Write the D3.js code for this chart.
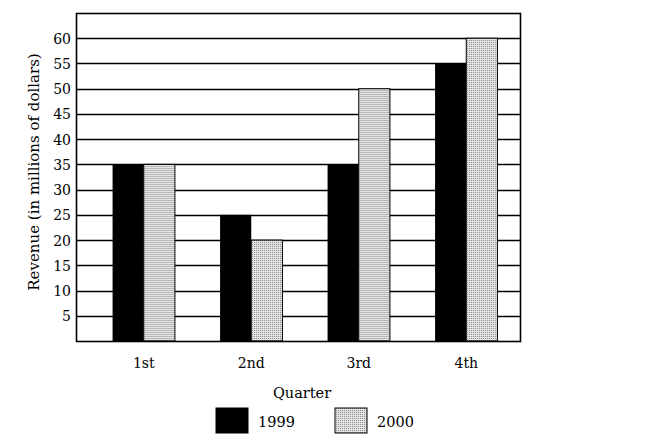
<!DOCTYPE html>
<html>
<head>
<meta charset="utf-8">
<script src="https://cdn.jsdelivr.net/npm/d3@7"></script>
<style>
  body { margin: 0; background: #fff; }
  text { font-family: "DejaVu Serif", "Liberation Serif", serif; fill: #000; }
</style>
</head>
<body>
<svg id="chart" width="650" height="444"></svg>
<script>
// Dados do gráfico
const quarters = ["1st", "2nd", "3rd", "4th"];
const series = ["1999", "2000"];
const rev1999 = [35, 25, 35, 55];
const rev2000 = [35, 20, 50, 60];
const yTicks = [5, 10, 15, 20, 25, 30, 35, 40, 45, 50, 55, 60];

const svg = d3.select("#chart");

// Padrão pontilhado para 2000
const defs = svg.append("defs");
const pat = defs.append("pattern")
    .attr("id", "dots")
    .attr("width", 2).attr("height", 2)
    .attr("patternUnits", "userSpaceOnUse");
pat.append("rect").attr("width", 2).attr("height", 2).attr("fill", "#e4e4e4");
pat.append("rect").attr("width", 1).attr("height", 1).attr("fill", "#8a8a8a");

const plot = {left: 76, right: 520, top: 13, bottom: 341};

// Escalas
const y = d3.scaleLinear().domain([0, 65]).range([plot.bottom, plot.top]);
const x = d3.scaleBand().domain(quarters).range([90, 520]).paddingInner(0.42).paddingOuter(0.21);
const x1 = d3.scaleBand().domain(series).range([0, x.bandwidth()]);

// Linhas de grade
svg.append("g")
    .selectAll("line")
    .data(yTicks)
    .join("line")
    .attr("x1", plot.left).attr("x2", plot.right)
    .attr("y1", d => Math.round(y(d)) + 0.5).attr("y2", d => Math.round(y(d)) + 0.5)
    .attr("stroke", "#000").attr("stroke-width", 1.4);

// Eixo Y (rótulos)
const yAxis = svg.append("g")
    .attr("transform", `translate(${plot.left},0)`)
    .call(d3.axisLeft(y).tickValues(yTicks).tickSize(0).tickPadding(5));
yAxis.select(".domain").remove();
yAxis.selectAll("text")
    .style("font-family", '"DejaVu Serif", serif')
    .style("font-size", "14px")
    .attr("dy", "0.36em");

// Barras
const groups = svg.append("g")
    .selectAll("g")
    .data(quarters)
    .join("g")
    .attr("transform", d => `translate(${x(d)},0)`);

groups.append("rect")
    .attr("x", x1("1999"))
    .attr("width", x1.bandwidth())
    .attr("y", (d, i) => y(rev1999[i]))
    .attr("height", (d, i) => y(0) - y(rev1999[i]))
    .attr("fill", "#000");

groups.append("rect")
    .attr("x", x1("2000"))
    .attr("width", x1.bandwidth())
    .attr("y", (d, i) => y(rev2000[i]))
    .attr("height", (d, i) => y(0) - y(rev2000[i]))
    .attr("fill", "url(#dots)")
    .attr("stroke", "#000").attr("stroke-width", 1);

// Moldura
svg.append("rect")
    .attr("x", plot.left + 0.5).attr("y", plot.top + 0.5)
    .attr("width", plot.right - plot.left).attr("height", plot.bottom - plot.top)
    .attr("fill", "none").attr("stroke", "#000").attr("stroke-width", 1.6);

// Eixo X (rótulos)
const xAxis = svg.append("g")
    .attr("transform", `translate(0,${plot.bottom})`)
    .call(d3.axisBottom(x).tickSize(0).tickPadding(17));
xAxis.select(".domain").remove();
xAxis.selectAll("text")
    .style("font-family", '"DejaVu Serif", serif')
    .style("font-size", "14px");

// Títulos dos eixos
svg.append("text")
    .attr("x", 302).attr("y", 398)
    .attr("text-anchor", "middle")
    .style("font-size", "14.5px")
    .text("Quarter");

svg.append("text")
    .attr("transform", "translate(39,172) rotate(-90)")
    .attr("text-anchor", "middle")
    .style("font-size", "15px")
    .text("Revenue (in millions of dollars)");

// Legenda
const legend = svg.append("g");
const legendItems = [
    {label: series[0], fill: "#000", x: 216},
    {label: series[1], fill: "url(#dots)", x: 335}
];
legendItems.forEach(item => {
    legend.append("rect")
        .attr("x", item.x).attr("y", 408)
        .attr("width", 32).attr("height", 25)
        .attr("fill", item.fill)
        .attr("stroke", "#000").attr("stroke-width", 1);
    legend.append("text")
        .attr("x", item.x + 42).attr("y", 427)
        .style("font-size", "14.5px")
        .text(item.label);
});
</script>
</body>
</html>
